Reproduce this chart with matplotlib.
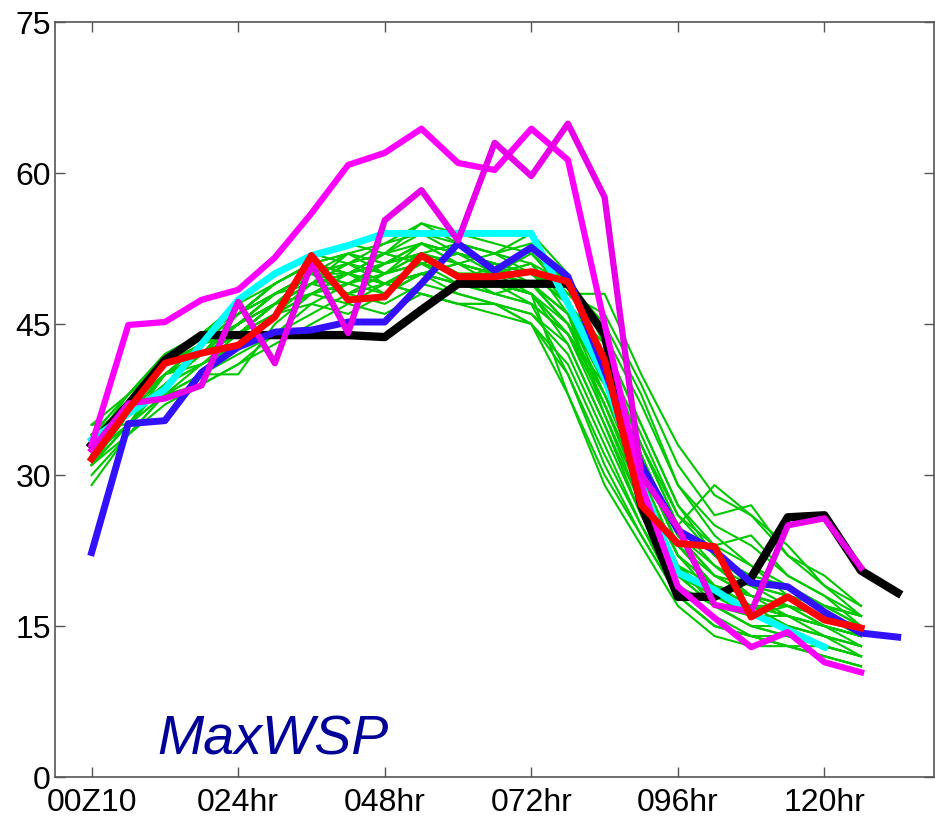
import numpy as np
import matplotlib
matplotlib.use('Agg')
import matplotlib.pyplot as plt

# forecast hours every 6 h
step = 6
xticks = [0, 24, 48, 72, 96, 120]
xticklabels = ['00Z10', '024hr', '048hr', '072hr', '096hr', '120hr']
yticks = [0, 15, 30, 45, 60, 75]

# ensemble members (green), 00Z10 .. 126hr
members = [
    [32, 36, 40, 42, 45, 48, 50, 49, 51, 53, 52, 51, 50, 47, 40, 31, 23, 19, 17, 16, 15, 14],
    [33, 37, 41, 43, 46, 49, 51, 50, 52, 54, 53, 52, 53, 49, 42, 33, 25, 21, 19, 17, 16, 15],
    [34, 38, 42, 44, 47, 50, 52, 51, 50, 52, 51, 50, 49, 45, 37, 29, 21, 18, 16, 17, 15, 13],
    [31, 35, 39, 41, 43, 46, 48, 47, 49, 51, 50, 49, 48, 44, 36, 27, 20, 17, 15, 14, 13, 12],
    [35, 35, 38, 40, 42, 44, 47, 49, 48, 50, 49, 51, 50, 48, 44, 37, 29, 24, 21, 18, 17, 16],
    [29, 34, 38, 39, 41, 44, 46, 48, 47, 49, 48, 47, 46, 42, 34, 26, 19, 16, 14, 13, 12, 11],
    [33, 36, 40, 42, 44, 47, 49, 52, 50, 51, 50, 48, 47, 40, 32, 25, 18, 15, 14, 13, 12, 11],
    [32, 37, 41, 44, 47, 50, 52, 53, 52, 55, 53, 52, 51, 49, 45, 38, 29, 25, 23, 20, 18, 16],
    [34, 37, 40, 43, 45, 47, 50, 48, 49, 50, 51, 50, 49, 46, 39, 30, 22, 18, 17, 15, 14, 13],
    [31, 36, 39, 42, 44, 46, 49, 50, 51, 53, 52, 51, 50, 47, 41, 33, 25, 29, 26, 23, 19, 17],
    [33, 38, 42, 44, 46, 48, 50, 51, 49, 48, 47, 47, 46, 43, 35, 27, 20, 18, 16, 16, 15, 14],
    [32, 35, 38, 40, 40, 45, 48, 49, 50, 52, 51, 50, 52, 48, 48, 40, 33, 28, 26, 22, 20, 17],
    [33, 36, 39, 41, 43, 46, 47, 46, 48, 50, 49, 50, 48, 38, 30, 24, 18, 15, 14, 14, 13, 12],
    [34, 37, 41, 43, 46, 49, 51, 50, 51, 52, 53, 52, 50, 47, 42, 34, 26, 23, 24, 20, 18, 15],
    [32, 35, 40, 42, 45, 47, 49, 51, 53, 54, 52, 51, 49, 45, 37, 28, 21, 19, 18, 17, 16, 14],
    [31, 34, 37, 39, 41, 43, 45, 47, 46, 48, 47, 46, 45, 41, 33, 25, 19, 17, 15, 14, 13, 12],
    [33, 37, 41, 43, 45, 48, 50, 48, 50, 53, 51, 52, 54, 50, 43, 35, 27, 22, 19, 18, 17, 15],
    [35, 38, 42, 44, 46, 48, 49, 50, 52, 51, 50, 49, 48, 45, 40, 32, 24, 20, 18, 16, 15, 14],
    [32, 36, 40, 41, 44, 47, 49, 50, 49, 50, 49, 48, 47, 44, 37, 29, 21, 17, 15, 15, 14, 13],
    [33, 37, 40, 43, 46, 49, 51, 52, 51, 53, 52, 51, 50, 48, 46, 39, 31, 26, 27, 22, 19, 16],
    [32, 35, 39, 42, 44, 46, 48, 49, 51, 52, 50, 49, 48, 43, 35, 26, 20, 18, 17, 17, 16, 15],
    [34, 36, 40, 42, 45, 48, 50, 51, 50, 51, 52, 51, 49, 46, 38, 31, 23, 20, 19, 18, 17, 16],
    [30, 34, 38, 41, 43, 46, 49, 48, 50, 51, 50, 50, 51, 47, 41, 33, 26, 22, 20, 19, 17, 15],
    [33, 37, 41, 44, 47, 49, 51, 52, 53, 55, 54, 53, 52, 49, 41, 32, 24, 20, 18, 17, 16, 14],
    [32, 36, 40, 42, 44, 47, 48, 50, 49, 50, 48, 47, 45, 38, 29, 23, 17, 14, 13, 13, 12, 11],
    [33, 36, 40, 42, 45, 47, 49, 50, 49, 48, 47, 47, 45, 40, 31, 24, 18, 15, 14, 13, 13, 12],
    [33, 37, 41, 43, 45, 47, 49, 51, 52, 53, 51, 50, 49, 46, 40, 32, 23, 19, 17, 16, 14, 13],
    [32, 36, 39, 42, 45, 48, 50, 50, 48, 50, 51, 49, 48, 44, 38, 29, 22, 19, 17, 16, 15, 14],
    [34, 38, 41, 43, 46, 48, 50, 52, 51, 52, 50, 50, 51, 46, 36, 28, 20, 17, 16, 15, 14, 12],
    [33, 36, 40, 43, 44, 47, 50, 49, 51, 52, 50, 49, 47, 44, 39, 31, 24, 21, 18, 17, 16, 15],
    [31, 35, 40, 42, 46, 49, 51, 50, 49, 51, 52, 50, 50, 47, 43, 35, 27, 23, 21, 19, 17, 16],
    [34, 37, 40, 42, 44, 47, 48, 50, 52, 51, 49, 48, 49, 45, 38, 30, 22, 19, 18, 17, 15, 14],
]

# thick lines
black = [33, 37, 41.4, 43.9, 43.9, 43.9, 43.9, 43.9, 43.7, 46.4, 49, 49, 49, 49, 44, 27,
         17.9, 17.9, 19.8, 25.8, 26, 20.5, 18.3]
cyan = [33.5, 36.1, 38.5, 43, 47.4, 50, 51.8, 52.8, 54, 54, 54, 54, 54, 47, 39.7, 29,
        20.3, 18.6, 16.3, 14.6, 12.9]
blue = [22.3, 35.1, 35.4, 40.2, 42.7, 44.2, 44.4, 45.2, 45.2, 49, 53, 50.3, 52.6, 49.7,
        40.4, 31, 24.5, 22.5, 19.3, 18.9, 16.4, 14.3, 13.9]
red = [31.6, 36.5, 41.1, 42.1, 42.9, 45.7, 51.8, 47.4, 47.7, 51.8, 49.7, 49.7, 50.2, 49.2,
       41.4, 27, 23.2, 22.9, 15.9, 17.9, 15.6, 14.8]
magenta_a = [33, 44.9, 45.2, 47.4, 48.4, 51.6, 56, 60.8, 62, 64.4, 61, 60.3, 64.4, 61.3,
             45, 29, 18.9, 15.8, 12.9, 14.4, 11.4, 10.4]
magenta_b = [32.5, 37.1, 37.6, 38.9, 47.2, 41.1, 51, 44.1, 55.3, 58.3, 53.3, 63, 59.7,
             64.9, 57.6, 30, 24.8, 17.1, 16.4, 25, 25.7, 20.8]


def hours(vals):
    return np.arange(len(vals)) * step


font = ['Liberation Sans', 'DejaVu Sans']

fig = plt.figure(figsize=(9.35, 8.24), dpi=100)
ax = fig.add_axes([0.0588, 0.057, 0.9405, 0.9163])

for m in members:
    ax.plot(hours(m), m, color='#00c800', lw=1.5, zorder=2)

ax.plot(hours(black), black, color='black', lw=6.0, zorder=3)
ax.plot(hours(cyan), cyan, color='#00ffff', lw=5.0, zorder=4)
ax.plot(hours(blue), blue, color='#3311ff', lw=5.0, zorder=5)
ax.plot(hours(magenta_a), magenta_a, color='#ff00ff', lw=4.5, zorder=6)
ax.plot(hours(magenta_b), magenta_b, color='#e800e8', lw=4.5, zorder=6)
ax.plot(hours(red), red, color='#ff0000', lw=5.0, zorder=7)

ax.set_xlim(-6, 138)
ax.set_ylim(0, 75)
ax.set_xticks(xticks)
ax.set_xticklabels(xticklabels)
ax.set_yticks(yticks)

for s in ax.spines.values():
    s.set_color('#555555')
    s.set_linewidth(1.2)
ax.tick_params(direction='in', length=7, width=1, color='#555555',
               top=True, right=True, labelsize=23)
ax.tick_params(axis='x', pad=8)
ax.tick_params(axis='y', pad=3)
for lab in ax.get_xticklabels() + ax.get_yticklabels():
    lab.set_family(font)

ax.text(10.8, 2.2, 'MaxWSP', color='#000099', fontsize=40, style='italic',
        family=font, va='baseline', ha='left', zorder=8)

fig.savefig('out.png', dpi=100)
